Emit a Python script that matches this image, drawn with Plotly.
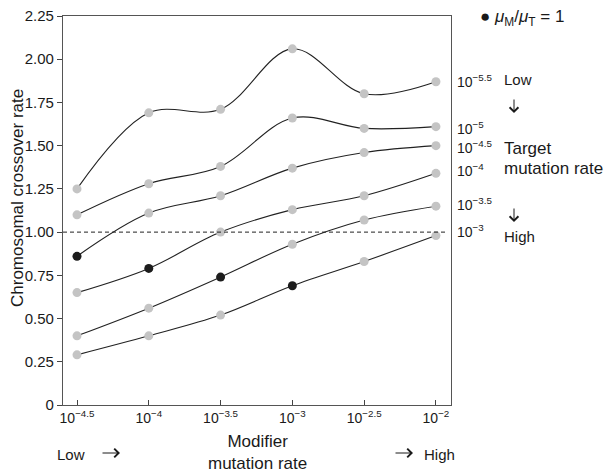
import plotly.graph_objects as go

# ---- data ----
modifier_exps = [-4.5, -4.0, -3.5, -3.0, -2.5, -2.0]
modifier_labels = ["10<sup>−4.5</sup>", "10<sup>−4</sup>", "10<sup>−3.5</sup>",
                   "10<sup>−3</sup>", "10<sup>−2.5</sup>", "10<sup>−2</sup>"]
target_exps = [-5.5, -5.0, -4.5, -4.0, -3.5, -3.0]
target_labels = ["10<sup>−5.5</sup>", "10<sup>−5</sup>", "10<sup>−4.5</sup>",
                 "10<sup>−4</sup>", "10<sup>−3.5</sup>", "10<sup>−3</sup>"]
rate_t55 = [1.25, 1.69, 1.71, 2.06, 1.80, 1.87]
rate_t50 = [1.10, 1.28, 1.38, 1.66, 1.60, 1.61]
rate_t45 = [0.86, 1.11, 1.21, 1.37, 1.46, 1.50]
rate_t40 = [0.65, 0.79, 1.00, 1.13, 1.21, 1.34]
rate_t35 = [0.40, 0.56, 0.74, 0.93, 1.07, 1.15]
rate_t30 = [0.29, 0.40, 0.52, 0.69, 0.83, 0.98]
series = [rate_t55, rate_t50, rate_t45, rate_t40, rate_t35, rate_t30]
y_ticks = [0, 0.25, 0.5, 0.75, 1.0, 1.25, 1.5, 1.75, 2.0, 2.25]
y_ticktext = ["0", "0.25", "0.50", "0.75", "1.00", "1.25", "1.50", "1.75", "2.00", "2.25"]

# ---- layout geometry ----
W, H = 606, 472
L, R, T, B = 63, 155, 16, 67
PW, PH = W - L - R, H - T - B
FONT = "Liberation Sans, Arial, Helvetica, sans-serif"
GRAY = "#c4c4c4"
DARK = "#1c1c1c"
TXT = "#1a1a1a"


def px(xp):
    return (xp - L) / PW


def py(yp):
    return (H - B - yp) / PH


xs = list(range(len(modifier_exps)))
fig = go.Figure()
for tex, vals in zip(target_exps, series):
    colors = [DARK if abs(m - tex) < 1e-9 else GRAY for m in modifier_exps]
    fig.add_trace(go.Scatter(
        x=xs, y=vals, mode="lines+markers",
        line=dict(color="#222222", width=1.1, shape="spline", smoothing=1.0),
        marker=dict(color=colors, size=9, line=dict(width=0)),
        showlegend=False, hoverinfo="skip"))

fig.add_shape(type="line", xref="paper", yref="y", x0=0, x1=0.985, y0=1.0, y1=1.0,
              line=dict(color="#222222", width=1, dash="4px,3px"))

ann = []
# series labels on the right
label_y = [81, 128, 147, 170, 204, 231]
for lab, yp in zip(target_labels, label_y):
    ann.append(dict(x=px(455), y=py(yp), text=lab, xanchor="left", yanchor="middle",
                    font=dict(size=14)))
# text labels
ann += [
    dict(x=px(502), y=py(80), text="Low", xanchor="left", yanchor="middle", font=dict(size=15)),
    dict(x=px(502), y=py(148), text="Target", xanchor="left", yanchor="middle", font=dict(size=17)),
    dict(x=px(502), y=py(168), text="mutation rate", xanchor="left", yanchor="middle",
         font=dict(size=17)),
    dict(x=px(502), y=py(236), text="High", xanchor="left", yanchor="middle", font=dict(size=15)),
    dict(x=px(478), y=py(18), text="● <i>μ</i><sub>M</sub>/<i>μ</i><sub>T</sub> = 1",
         xanchor="left", yanchor="middle", font=dict(size=17)),
    dict(x=px(18), y=py(198), text="Chromosomal crossover rate", textangle=-90,
         xanchor="center", yanchor="middle", font=dict(size=17)),
    dict(x=px(257), y=py(452), text="Modifier<br>mutation rate", xanchor="center",
         yanchor="middle", font=dict(size=17)),
    dict(x=px(55), y=py(454), text="Low", xanchor="left", yanchor="middle", font=dict(size=15)),
    dict(x=px(422), y=py(454), text="High", xanchor="left", yanchor="middle", font=dict(size=15)),
]
for a in ann:
    a.update(xref="paper", yref="paper", showarrow=False)
    a["font"].update(color=TXT, family=FONT)

# arrow glyphs drawn as annotation arrows (head at x,y; tail offset ax, ay in px)
arrows = [
    (120, 453, -19, 0),   # bottom-left  ->
    (413, 453, -19, 0),   # bottom-right ->
    (514, 113, 0, -15),   # right  down arrow (Low)
    (514, 222, 0, -15),   # right  down arrow (High)
]
for hx, hy, ax, ay in arrows:
    ann.append(dict(x=px(hx), y=py(hy), xref="paper", yref="paper", text="",
                    showarrow=True, arrowhead=4, arrowsize=1.7, arrowwidth=1.0,
                    arrowcolor=TXT, ax=ax, ay=ay, standoff=0, startstandoff=0))

fig.update_layout(
    width=W, height=H,
    margin=dict(l=L, r=R, t=T, b=B, autoexpand=False),
    paper_bgcolor="white", plot_bgcolor="white",
    font=dict(family=FONT, color=TXT, size=14),
    annotations=ann,
    xaxis=dict(range=[-0.195, 5.21], tickmode="array", tickvals=xs, ticktext=modifier_labels,
               ticks="inside", ticklen=5, tickcolor="#444", showgrid=False, zeroline=False,
               showline=True, linecolor="#555", linewidth=1.2, mirror=True,
               tickfont=dict(size=14)),
    yaxis=dict(range=[0, 2.25], tickmode="array", tickvals=y_ticks, ticktext=y_ticktext,
               ticks="outside", ticklen=5, tickcolor="#444", showgrid=False, zeroline=False,
               showline=True, linecolor="#555", linewidth=1.2, mirror=True,
               tickfont=dict(size=15)),
)

fig.write_html("out.html", config={"displayModeBar": False},
               post_script="document.body.style.margin='0';document.body.style.padding='0';")
